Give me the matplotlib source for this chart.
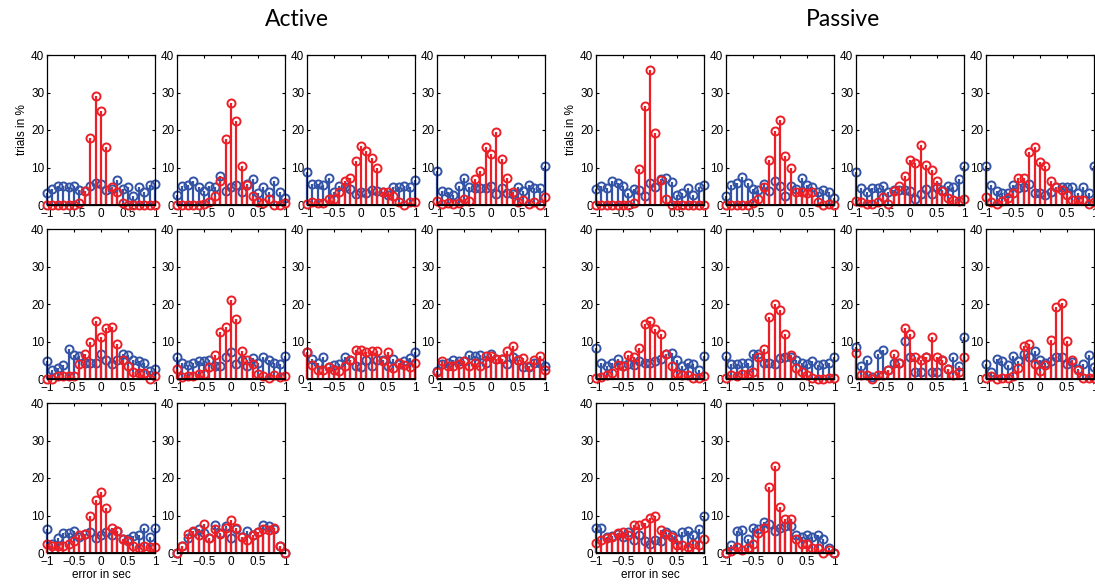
import matplotlib
matplotlib.use('Agg')
import matplotlib.pyplot as plt

# error in sec, 21 bins
error_sec = [-1.0, -0.9, -0.8, -0.7, -0.6, -0.5, -0.4, -0.3, -0.2, -0.1, 0.0,
             0.1, 0.2, 0.3, 0.4, 0.5, 0.6, 0.7, 0.8, 0.9, 1.0]

# Active group (blue / red per subject)
a1_blue = [3.3, 4.3, 5.1, 5.1, 4.8, 5.1, 4.0, 3.8, 5.1, 6.0, 5.5, 4.0, 4.4, 6.7, 4.4, 4.7, 2.5, 4.8, 3.6, 5.3, 5.6]
a1_red = [0, 0, 0, 0, 0, 0, 0.5, 3.8, 17.8, 29.0, 25.0, 15.4, 4.7, 3.4, 0.5, 0, 0, 0, 0, 0, 0]
a2_blue = [2.7, 5.1, 5.3, 6.5, 4.8, 3.8, 5.1, 4.8, 7.8, 3.8, 4.7, 5.3, 3.4, 5.6, 6.9, 3.2, 4.8, 3.4, 6.5, 3.6, 1.9]
a2_red = [0, 0, 0, 0, 0, 0.3, 0.7, 2.5, 6.5, 17.6, 27.3, 22.4, 10.5, 5.3, 2.3, 0.8, 0.5, 1.5, 0, 0, 0.5]
a3_blue = [8.7, 5.6, 5.6, 5.3, 7.1, 3.6, 5.1, 4.8, 4.4, 3.0, 3.6, 3.1, 4.0, 3.8, 3.4, 2.8, 4.7, 4.7, 5.1, 4.8, 6.7]
a3_red = [0.3, 0.9, 0.5, 0.6, 1.7, 1.5, 3.6, 6.5, 7.2, 11.7, 15.7, 14.4, 12.5, 9.8, 3.6, 3.4, 2.5, 0.8, 0.1, 0.9, 0.8]
a4_blue = [9.1, 3.8, 3.6, 2.6, 5.1, 7.1, 4.9, 4.5, 4.5, 4.5, 5.1, 3.0, 4.5, 3.1, 3.0, 4.7, 3.8, 5.3, 4.5, 4.5, 10.3]
a4_red = [1.2, 0.3, 0.5, 0.3, 0.5, 1.7, 1.1, 6.9, 9.1, 15.6, 13.6, 19.4, 12.3, 7.2, 3.6, 0.7, 1.3, 0.4, 0.7, 0, 2.2]
a5_blue = [4.7, 2.3, 2.9, 3.8, 8.0, 6.5, 6.2, 4.3, 4.4, 4.4, 6.7, 5.1, 4.0, 5.0, 6.7, 6.5, 5.1, 4.9, 4.3, 2.1, 2.7]
a5_red = [0, 0, 0.7, 0.7, 0.7, 0.9, 4.0, 6.6, 10.0, 15.6, 11.2, 13.7, 14.0, 9.3, 5.0, 3.4, 1.8, 1.6, 1.6, 0, 0.7]
a6_blue = [5.9, 4.3, 3.8, 4.4, 4.9, 4.7, 5.1, 3.4, 3.4, 5.8, 7.2, 4.0, 5.1, 3.4, 5.6, 4.3, 6.0, 5.0, 4.4, 4.0, 6.2]
a6_red = [2.7, 0.5, 0.7, 0.7, 1.3, 1.3, 3.2, 6.5, 12.5, 14.0, 21.1, 15.9, 7.5, 5.0, 4.0, 1.3, 0.9, 0.3, 1.2, 0.5, 0.7]
a7_blue = [7.1, 5.4, 4.3, 6.0, 3.2, 3.8, 4.0, 5.8, 5.1, 3.6, 3.2, 5.0, 3.6, 5.0, 5.0, 3.6, 5.3, 4.1, 4.7, 5.5, 7.2]
a7_red = [7.2, 3.7, 2.5, 2.5, 3.2, 2.5, 2.2, 3.4, 5.0, 7.8, 7.8, 7.2, 7.4, 7.4, 4.7, 7.1, 2.9, 4.4, 3.8, 3.1, 4.4]
a8_blue = [2.2, 4.1, 4.3, 5.0, 4.9, 4.7, 6.3, 6.2, 6.3, 4.3, 6.7, 5.4, 5.3, 4.1, 5.8, 5.0, 3.2, 3.2, 4.3, 4.4, 3.4]
a8_red = [2.0, 4.7, 3.4, 3.4, 4.0, 4.7, 3.4, 4.3, 3.4, 6.2, 6.2, 5.3, 5.3, 7.5, 8.9, 5.0, 5.6, 3.4, 5.1, 6.2, 2.5]
a9_blue = [6.4, 2.4, 4.0, 5.3, 5.3, 5.8, 4.4, 5.2, 5.5, 4.0, 4.9, 5.5, 4.9, 5.8, 3.7, 3.7, 4.6, 4.7, 6.8, 4.4, 6.8]
a9_red = [2.4, 1.8, 1.8, 1.8, 2.4, 3.3, 4.7, 5.2, 10.0, 14.2, 16.3, 12.0, 6.7, 6.0, 3.7, 3.3, 2.0, 1.3, 1.8, 1.5, 1.5]
a10_blue = [0, 1.8, 4.0, 5.6, 6.5, 5.3, 4.0, 7.4, 5.3, 7.1, 4.0, 6.5, 4.4, 5.8, 4.9, 5.5, 7.6, 7.1, 6.5, 1.8, 0]
a10_red = [0, 1.8, 5.2, 5.8, 4.9, 7.8, 4.0, 6.5, 5.2, 6.8, 8.9, 6.7, 4.2, 3.6, 4.9, 5.6, 6.4, 6.2, 6.7, 1.8, 0]

# Passive group
p1_blue = [4.2, 5.1, 4.6, 6.4, 6.0, 5.1, 3.3, 4.3, 4.0, 2.4, 6.0, 4.9, 6.9, 7.2, 6.1, 2.6, 3.1, 4.6, 2.7, 4.8, 5.3]
p1_red = [0, 0, 0, 0, 0, 0, 0, 0.6, 9.6, 26.3, 36.1, 19.2, 6.8, 1.6, 0, 0, 0, 0, 0, 0, 0]
p2_blue = [2.5, 5.4, 5.8, 7.4, 5.8, 4.3, 4.0, 5.6, 3.8, 6.4, 5.2, 2.5, 5.2, 4.3, 7.3, 5.3, 4.7, 3.6, 4.0, 3.6, 2.0]
p2_red = [0, 0, 0, 0, 0, 0.6, 1.5, 4.9, 12.1, 19.8, 22.7, 13.2, 9.8, 3.6, 3.6, 3.1, 3.6, 0.9, 0, 0.2, 0]
p3_blue = [8.9, 4.5, 3.6, 4.5, 4.5, 5.1, 3.6, 4.0, 4.0, 4.0, 3.8, 1.5, 3.0, 4.3, 2.9, 4.7, 4.0, 5.2, 4.9, 6.9, 10.4]
p3_red = [1.0, 0.9, 0.4, 0.4, 0.7, 2.1, 0.2, 3.8, 5.2, 7.8, 12.1, 11.2, 15.9, 10.8, 9.4, 6.4, 3.8, 1.9, 1.3, 1.1, 1.6]
p4_blue = [10.5, 5.4, 3.8, 3.1, 3.1, 5.3, 4.5, 4.9, 5.6, 3.1, 3.3, 2.7, 3.4, 4.7, 4.9, 4.9, 4.9, 3.3, 4.7, 3.1, 10.3]
p4_red = [2.1, 0.9, 0.4, 1.1, 1.8, 3.1, 7.2, 7.2, 14.1, 15.6, 11.4, 10.3, 6.3, 4.7, 4.0, 2.7, 1.3, 1.3, 1.3, 0.2, 0.7]
p5_blue = [8.2, 4.3, 3.5, 4.3, 5.4, 3.4, 4.1, 3.8, 4.7, 4.4, 4.4, 4.9, 5.4, 6.7, 6.9, 5.0, 3.5, 4.4, 4.1, 2.3, 6.2]
p5_red = [0.3, 0.5, 1.0, 1.6, 3.8, 3.5, 6.5, 6.0, 8.2, 14.6, 15.6, 13.3, 12.0, 6.6, 3.6, 1.3, 1.0, 1.2, 0.3, 0.3, 0.9]
p6_blue = [6.2, 4.1, 4.0, 4.3, 4.3, 6.6, 6.6, 4.4, 4.3, 4.0, 5.5, 6.0, 5.8, 5.0, 4.3, 4.1, 4.9, 3.8, 4.1, 4.3, 5.8]
p6_red = [0.4, 1.1, 0.7, 1.3, 1.3, 1.9, 5.8, 8.0, 16.5, 19.9, 18.3, 12.0, 6.4, 2.9, 1.9, 1.2, 0.3, 0.1, 0.1, 0.3, 0.3]
p7_blue = [8.5, 3.4, 5.1, 0.5, 6.7, 7.8, 2.5, 4.3, 4.4, 10.2, 6.0, 1.8, 1.8, 6.0, 1.8, 1.8, 5.1, 2.7, 6.0, 3.4, 11.1]
p7_red = [6.9, 1.0, 1.0, 0, 1.0, 1.0, 2.5, 6.7, 4.4, 13.7, 12.0, 6.0, 5.0, 6.0, 11.1, 6.0, 5.1, 2.7, 1.0, 1.8, 6.0]
p8_blue = [4.0, 1.9, 5.4, 4.7, 3.8, 6.2, 4.7, 6.6, 6.0, 7.4, 5.1, 4.3, 4.7, 6.0, 5.9, 4.1, 4.5, 2.7, 4.1, 6.3, 3.2]
p8_red = [0.2, 0.7, 0, 0.2, 0.2, 0.7, 2.9, 8.7, 9.4, 4.0, 2.2, 3.8, 10.5, 19.1, 20.2, 10.2, 5.1, 2.5, 0.4, 0.3, 0.3]
p9_blue = [6.8, 6.7, 4.4, 4.6, 5.2, 4.4, 5.5, 3.6, 4.9, 3.3, 2.4, 3.6, 3.1, 5.5, 4.9, 3.7, 5.5, 5.8, 4.9, 6.5, 9.8]
p9_red = [2.8, 3.6, 4.0, 4.2, 5.3, 5.6, 4.9, 7.4, 7.6, 8.0, 9.3, 9.8, 6.2, 5.1, 4.4, 2.2, 2.2, 1.5, 2.5, 2.2, 3.7]
p10_blue = [0, 2.2, 5.8, 6.2, 3.7, 6.7, 6.4, 8.4, 7.7, 5.8, 6.7, 7.1, 7.1, 4.7, 4.4, 4.9, 4.4, 4.7, 3.8, 1.3, 0]
p10_red = [0, 0.6, 1.5, 0.9, 1.3, 2.4, 5.3, 6.8, 17.6, 23.1, 12.4, 9.1, 9.1, 3.7, 2.4, 2.4, 1.3, 1.3, 0, 0.9, 0]

active = [(a1_blue, a1_red), (a2_blue, a2_red), (a3_blue, a3_red), (a4_blue, a4_red),
          (a5_blue, a5_red), (a6_blue, a6_red), (a7_blue, a7_red), (a8_blue, a8_red),
          (a9_blue, a9_red), (a10_blue, a10_red)]
passive = [(p1_blue, p1_red), (p2_blue, p2_red), (p3_blue, p3_red), (p4_blue, p4_red),
           (p5_blue, p5_red), (p6_blue, p6_red), (p7_blue, p7_red), (p8_blue, p8_red),
           (p9_blue, p9_red), (p10_blue, p10_red)]

xticks = [-1, -0.5, 0, 0.5, 1]
xtick_labels = ['\u22121', '\u22120.5', '0', '0.5', '1']
yticks = [0, 10, 20, 30, 40]

BLUE = '#3353a6'
RED = '#ec1f27'

W, H = 1095, 585
fig = plt.figure(figsize=(W / 100, H / 100), dpi=100)
plt.rcParams['font.family'] = ['Liberation Sans', 'DejaVu Sans']


def stem_series(ax, y, color):
    ml, sl, bl = ax.stem(error_sec, y, basefmt='k-')
    plt.setp(sl, color=color, linewidth=1.6, clip_on=False)
    plt.setp(ml, markerfacecolor='none', markeredgecolor=color,
             markersize=5.8, markeredgewidth=1.4, clip_on=False)
    plt.setp(bl, color='k', linewidth=1.2)


def draw_group(data, x0):
    for i, (blue, red) in enumerate(data):
        row, col = divmod(i, 4)
        left = x0 + col * 130
        top = 55 + row * 174
        ax = fig.add_axes([left / W, 1 - (top + 150) / H, 108 / W, 150 / H])
        stem_series(ax, blue, BLUE)
        stem_series(ax, red, RED)
        ax.set_xlim(-1, 1)
        ax.set_ylim(0, 40)
        ax.set_xticks(xticks)
        ax.set_xticklabels(xtick_labels)
        ax.set_yticks(yticks)
        ax.tick_params(direction='in', top=True, right=True, length=2.5,
                       labelsize=8.5, pad=2)
        for s in ax.spines.values():
            s.set_linewidth(0.9)
        if i == 0:
            ax.set_ylabel('trials in %', fontsize=8.5, labelpad=2)
        if i == 8:
            ax.set_xlabel('error in sec', fontsize=8.5, labelpad=1)


draw_group(active, 47)
draw_group(passive, 596)

fig.text(297 / W, 1 - 20 / H, 'Active', ha='center', va='center', fontsize=16.5, family='Lato')
fig.text(843 / W, 1 - 20 / H, 'Passive', ha='center', va='center', fontsize=16.5, family='Lato')

plt.savefig('out.png', dpi=100)
plt.close()
